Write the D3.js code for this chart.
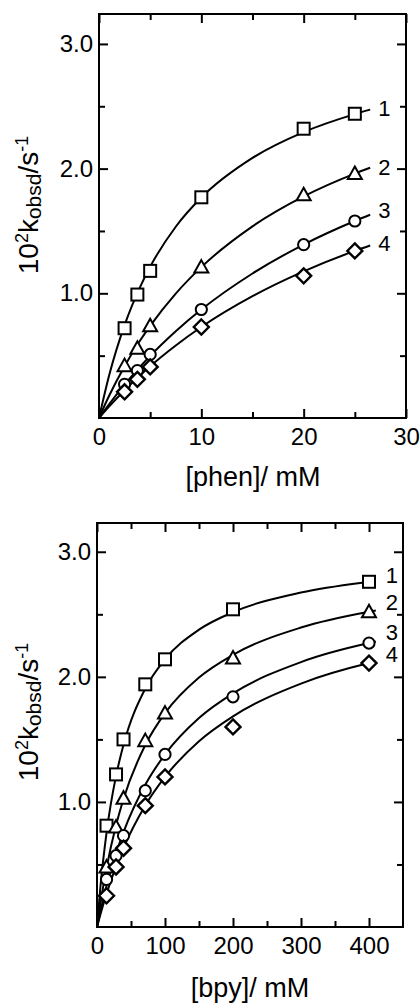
<!DOCTYPE html>
<html><head><meta charset="utf-8">
<script src="https://cdn.jsdelivr.net/npm/d3@7"></script>
<style>
html,body{margin:0;padding:0;background:#fff;}
svg{display:block;font-family:"Liberation Sans",Arial,sans-serif;}
</style></head>
<body>
<svg id="c" width="420" height="1003"></svg>
<script>
// ---------- data: top panel (phen) ----------
const phenX = [2.5, 3.75, 5, 10, 20, 25];
const phen1 = [0.72, 0.99, 1.18, 1.77, 2.32, 2.44];
const phen2 = [0.42, 0.56, 0.74, 1.21, 1.79, 1.96];
const phen3 = [0.27, 0.38, 0.51, 0.87, 1.39, 1.58];
const phen4 = [0.21, 0.31, 0.41, 0.73, 1.14, 1.34];
// fitted curves
const phenCurveX = [0, 1, 2.5, 4, 5, 7.5, 10, 15, 20, 25, 26.5];
const phenFit1 = [0, 0.345, 0.745, 1.048, 1.213, 1.534, 1.768, 2.086, 2.293, 2.437, 2.473];
const phenFit2 = [0, 0.180, 0.415, 0.619, 0.739, 0.998, 1.210, 1.537, 1.777, 1.960, 2.007];
const phenFit3 = [0, 0.112, 0.268, 0.410, 0.498, 0.696, 0.870, 1.159, 1.391, 1.580, 1.630];
const phenFit4 = [0, 0.093, 0.223, 0.341, 0.415, 0.582, 0.730, 0.977, 1.176, 1.340, 1.383];
const phenXTicks = [0, 10, 20, 30];
const phenXMinor = [5, 15, 25];

// ---------- data: bottom panel (bpy) ----------
const bpyX = [14, 28, 39, 71, 100, 200, 400];
const bpy1 = [0.81, 1.22, 1.50, 1.94, 2.14, 2.54, 2.76];
const bpy2 = [0.48, 0.80, 1.03, 1.49, 1.71, 2.15, 2.52];
const bpy3 = [0.38, 0.57, 0.73, 1.09, 1.38, 1.84, 2.27];
const bpy4 = [0.25, 0.48, 0.63, 0.97, 1.20, 1.60, 2.11];
const bpyCurveX = [0, 5, 14, 28, 39, 71, 100, 150, 200, 300, 400, 410];
const bpyFit1 = [0, 0.320, 0.753, 1.208, 1.457, 1.906, 2.140, 2.377, 2.517, 2.674, 2.760, 2.767];
const bpyFit2 = [0, 0.187, 0.471, 0.813, 1.024, 1.455, 1.710, 1.995, 2.176, 2.394, 2.520, 2.530];
const bpyFit3 = [0, 0.126, 0.328, 0.588, 0.759, 1.137, 1.380, 1.671, 1.868, 2.118, 2.270, 2.282];
const bpyFit4 = [0, 0.101, 0.265, 0.484, 0.632, 0.972, 1.200, 1.485, 1.684, 1.946, 2.110, 2.123];
const bpyXTicks = [0, 100, 200, 300, 400];
const bpyXMinor = [50, 150, 250, 350];

const yTicks = [1.0, 2.0, 3.0];
const yMinor = [0.5, 1.5, 2.5];
const seriesNames = ["1", "2", "3", "4"];
const markerKinds = ["square", "triangle", "circle", "diamond"];

const svg = d3.select("#c");

function marker(g, kind, cx, cy) {
  const st = {fill: "#fff", stroke: "#000", "stroke-width": 2};
  let el;
  if (kind === "square") {
    el = g.append("rect").attr("x", cx - 6).attr("y", cy - 6).attr("width", 12).attr("height", 12);
  } else if (kind === "circle") {
    el = g.append("circle").attr("cx", cx).attr("cy", cy).attr("r", 5.6);
  } else if (kind === "triangle") {
    el = g.append("path").attr("d", `M${cx},${cy-7}L${cx+7},${cy+5.5}L${cx-7},${cy+5.5}Z`);
  } else {
    el = g.append("path").attr("d", `M${cx},${cy-7.5}L${cx+7.5},${cy}L${cx},${cy+7.5}L${cx-7.5},${cy}Z`);
    st["stroke-width"] = 2.4;
  }
  for (const k in st) el.attr(k, st[k]);
}

function panel(opt) {
  const g = svg.append("g");
  const x = d3.scaleLinear().domain(opt.xDomain).range([opt.left, opt.right]);
  const y = d3.scaleLinear().domain(opt.yDomain).range([opt.bottom, opt.top]);

  g.append("rect").attr("x", opt.left).attr("y", opt.top)
    .attr("width", opt.right - opt.left).attr("height", opt.bottom - opt.top)
    .attr("fill", "none").attr("stroke", "#000").attr("stroke-width", 2);

  const styleAxis = a => {
    a.select(".domain").remove();
    a.selectAll("line").attr("stroke", "#000").attr("stroke-width", 2);
    a.selectAll("text").attr("fill", "#000").attr("font-size", 24)
      .attr("font-family", "Liberation Sans, Arial, sans-serif");
  };
  g.append("g").attr("transform", `translate(0,${opt.bottom})`)
    .call(d3.axisBottom(x).tickValues(opt.xTicks).tickSize(-9).tickPadding(10).tickFormat(d3.format("d")))
    .call(styleAxis);
  g.append("g").attr("transform", `translate(0,${opt.bottom})`)
    .call(d3.axisBottom(x).tickValues(opt.xMinor).tickSize(-6).tickFormat(""))
    .call(styleAxis);
  g.append("g").attr("transform", `translate(0,${opt.top})`)
    .call(d3.axisTop(x).tickValues(opt.xTicks).tickSize(-9).tickFormat(""))
    .call(styleAxis);
  g.append("g").attr("transform", `translate(0,${opt.top})`)
    .call(d3.axisTop(x).tickValues(opt.xMinor).tickSize(-6).tickFormat(""))
    .call(styleAxis);
  g.append("g").attr("transform", `translate(${opt.left},0)`)
    .call(d3.axisLeft(y).tickValues(yTicks).tickSize(-9).tickPadding(6).tickFormat(d3.format(".1f")))
    .call(styleAxis);
  g.append("g").attr("transform", `translate(${opt.left},0)`)
    .call(d3.axisLeft(y).tickValues(yMinor).tickSize(-6).tickFormat(""))
    .call(styleAxis);
  g.append("g").attr("transform", `translate(${opt.right},0)`)
    .call(d3.axisRight(y).tickValues(yTicks).tickSize(-9).tickFormat(""))
    .call(styleAxis);
  g.append("g").attr("transform", `translate(${opt.right},0)`)
    .call(d3.axisRight(y).tickValues(yMinor).tickSize(-6).tickFormat(""))
    .call(styleAxis);

  const line = d3.line().x(d => x(d[0])).y(d => y(d[1])).curve(d3.curveMonotoneX);
  opt.fits.forEach((f, i) => {
    const pts = opt.curveX.map((cx, j) => [cx, f[j]]);
    g.append("path").attr("d", line(pts)).attr("fill", "none")
      .attr("stroke", "#000").attr("stroke-width", 2);
    const last = pts[pts.length - 1];
    g.append("text").attr("x", x(last[0]) + opt.labelDx).attr("y", y(last[1]) + opt.labelDy[i] + 8)
      .attr("font-size", 22).text(seriesNames[i]);
  });
  opt.series.forEach((s, i) => {
    const mg = g.append("g");
    s.forEach((v, j) => marker(mg, markerKinds[i], x(opt.xs[j]), y(v)));
  });

  g.append("text").attr("x", opt.xTitleX).attr("y", opt.xTitleY).attr("text-anchor", "middle")
    .attr("font-size", 27).text(opt.xTitle);
  const yt = g.append("text").attr("transform", `translate(${opt.yTitleX},${opt.yTitleY}) rotate(-90)`)
    .attr("text-anchor", "middle").attr("font-size", 28);
  yt.append("tspan").text("10");
  yt.append("tspan").attr("font-size", 18).attr("dy", -10).text("2");
  yt.append("tspan").attr("dy", 10).text("k");
  yt.append("tspan").attr("font-size", 21).attr("dy", 3).text("obsd");
  yt.append("tspan").attr("dy", -3).text("/s");
  yt.append("tspan").attr("font-size", 18).attr("dy", -10).text("-1");
}

panel({
  left: 99, right: 406, top: 14, bottom: 418,
  xDomain: [0, 30], yDomain: [0, 3.24],
  xTicks: phenXTicks, xMinor: phenXMinor,
  xs: phenX, series: [phen1, phen2, phen3, phen4],
  curveX: phenCurveX, fits: [phenFit1, phenFit2, phenFit3, phenFit4],
  labelDx: 8, labelDy: [-2, -1, -5, -3],
  xTitle: "[phen]/ mM", xTitleX: 253, xTitleY: 486,
  yTitleX: 38, yTitleY: 205
});

panel({
  left: 97, right: 403, top: 523, bottom: 927,
  xDomain: [0, 450], yDomain: [0, 3.23],
  xTicks: bpyXTicks, xMinor: bpyXMinor,
  xs: bpyX, series: [bpy1, bpy2, bpy3, bpy4],
  curveX: bpyCurveX, fits: [bpyFit1, bpyFit2, bpyFit3, bpyFit4],
  labelDx: 10, labelDy: [-6, -9, -10, -7],
  xTitle: "[bpy]/ mM", xTitleX: 250, xTitleY: 997,
  yTitleX: 38, yTitleY: 712
});
</script>
</body></html>
